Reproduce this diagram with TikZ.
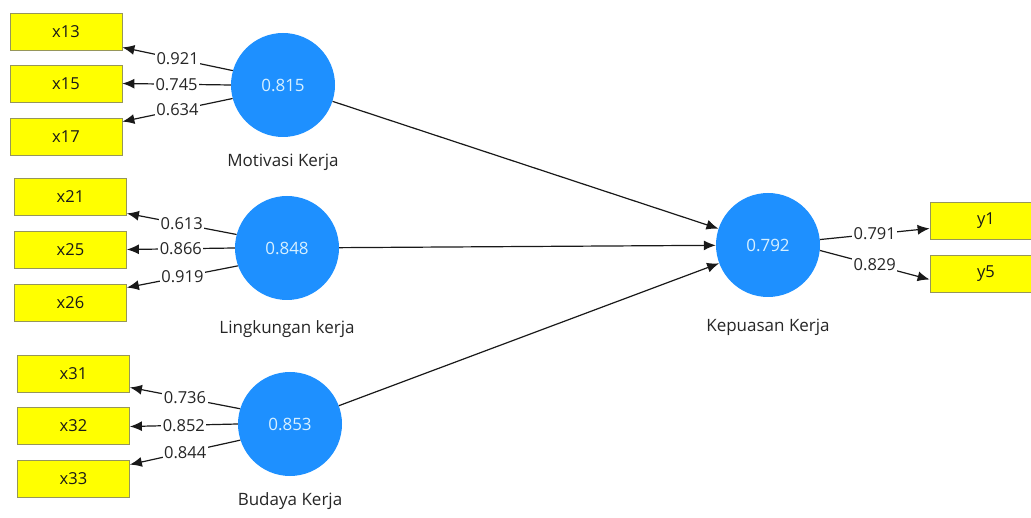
\documentclass[tikz,border=0pt]{standalone}
\usepackage{fontspec}
\setmainfont{Open Sans}
\usetikzlibrary{arrows.meta}
\definecolor{indfill}{RGB}{255,255,0}
\definecolor{inddraw}{RGB}{150,150,90}
\definecolor{latfill}{RGB}{30,144,255}
\definecolor{lattext}{RGB}{215,240,255}
\definecolor{linecol}{RGB}{25,25,25}
\tikzset{
  indbox/.style={draw=inddraw, fill=indfill, line width=0.8pt, minimum width=112pt, minimum height=37pt, inner sep=0pt, font=\fontsize{16.5}{16.5}\selectfont, text=black!90},
  latent/.style={circle, fill=latfill, minimum size=104pt, inner sep=0pt, font=\fontsize{17}{17}\selectfont, text=lattext},
  latlabel/.style={font=\fontsize{17}{17}\selectfont, text=black!85},
  conn/.style={draw=linecol, line width=1.2pt, -{Latex[length=12pt,width=10pt]}},
  loadlab/.style={fill=white, inner sep=1.5pt, font=\fontsize{16.5}{16.5}\selectfont, text=black!85}
}
\begin{document}
\begin{tikzpicture}[x=1pt,y=-1pt]
\useasboundingbox (0,0) rectangle (1031,518);
% indicators
\node[indbox] (x13) at (66,31.5) {x13};
\node[indbox] (x15) at (66,83.5) {x15};
\node[indbox] (x17) at (66,136.5) {x17};
\node[indbox] (x21) at (70.5,196.5) {x21};
\node[indbox] (x25) at (70.5,249.5) {x25};
\node[indbox] (x26) at (70.5,302.5) {x26};
\node[indbox] (x31) at (73.5,373.5) {x31};
\node[indbox] (x32) at (73.5,425.5) {x32};
\node[indbox] (x33) at (73.5,478.5) {x33};
\node[indbox] (y1) at (986,220.5) {y1};
\node[indbox] (y5) at (986,273.5) {y5};
% latent variables
\node[latent] (mk) at (283,85) {0.815};
\node[latent] (lk) at (287,248) {0.848};
\node[latent] (bk) at (290,424) {0.853};
\node[latent] (kk) at (768,245) {0.792};
\node[latlabel] at (283,162) (mklab) {Motivasi Kerja};
\node[latlabel] at (287,329) (lklab) {Lingkungan kerja};
\node[latlabel] at (290,501) (bklab) {Budaya Kerja};
\node[latlabel] at (768,327) (kklab) {Kepuasan Kerja};
% outer loadings
\draw[conn] (mk.164) -- node[loadlab,pos=0.5]{0.921} ([yshift=3pt]x13.south east);
\draw[conn] (mk.180) -- node[loadlab,pos=0.5]{0.745} (x15.east);
\draw[conn] (mk.195) -- node[loadlab,pos=0.5]{0.634} ([yshift=-4pt]x17.north east);
\draw[conn] (lk.165) -- node[loadlab,pos=0.5]{0.613} ([yshift=2pt]x21.south east);
\draw[conn] (lk.180) -- node[loadlab,pos=0.5]{0.866} (x25.east);
\draw[conn] (lk.200) -- node[loadlab,pos=0.5]{0.919} ([yshift=-4pt]x26.north east);
\draw[conn] (bk.163) -- node[loadlab,pos=0.5]{0.736} ([yshift=5pt]x31.south east);
\draw[conn] (bk.180) -- node[loadlab,pos=0.5]{0.852} ([yshift=-1pt]x32.east);
\draw[conn] (bk.198) -- node[loadlab,pos=0.5]{0.844} ([yshift=-5pt]x33.north east);
\draw[conn] (kk.6) -- node[loadlab,pos=0.5]{0.791} ([yshift=-8pt]y1.west);
\draw[conn] (kk.354) -- node[loadlab,pos=0.5]{0.829} ([yshift=-6pt]y5.west);
% structural paths
\draw[conn] (mk) -- (kk);
\draw[conn] (lk) -- (kk);
\draw[conn] (bk) -- (kk);
\end{tikzpicture}
\end{document}
